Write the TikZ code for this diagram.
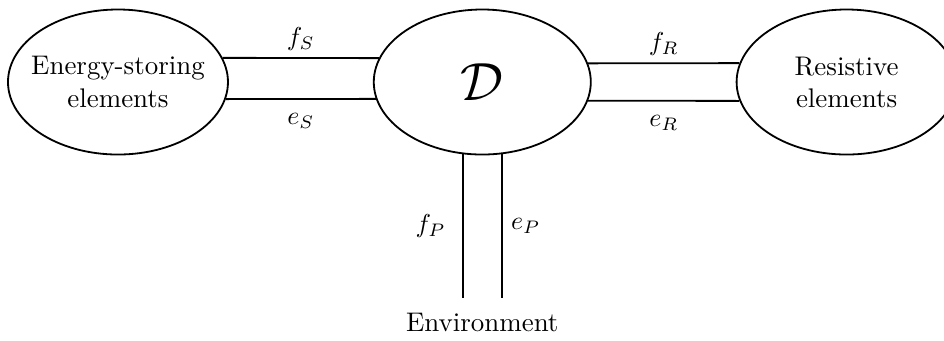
\documentclass[tikz,border=0pt]{standalone}
\usepackage{amsmath,amssymb}
\usepackage{tikz}
\usetikzlibrary{positioning,shapes.geometric,calc}
\begin{document}
\begin{tikzpicture}[node distance=1.954cm, every node/.style={font=\fontsize{10.4pt}{12.4pt}\selectfont}, blob/.style={ellipse, draw=black, line width=0.7pt, align=center, inner xsep=-4pt, minimum width=2.985cm, minimum height=1.968cm}, ln/.style={line width=0.7pt}]
\useasboundingbox (-1.601,-3.501) rectangle (11.209,1.113);
\node[blob] (S) {Energy-storing\\elements};
\node[blob, right=of S, minimum width=2.945cm] (D) {\huge$\mathcal{D}$};
\node[blob, right=of D] (R) {Resistive\\elements};
\node[below=2.02cm of D] (env) {Environment};
\coordinate[above=0.08cm of env] (p);
\draw[ln] (S.13) -- node[above=-0.8pt] {$f_S$} (D.167);
\draw[ln] (S.-9) -- node[below=2pt] {$e_S$} (D.189);
\draw[ln] (D.10) -- node[above=-0.8pt] {$f_R$} (R.170);
\draw[ln] (D.-10) -- node[below=2pt] {$e_R$} (R.190);
\draw[ln] (D.255) -- node[left=3pt] {$f_P$} (D.255 |- p);
\draw[ln] (D.285) -- node[right] {$e_P$} (D.285 |- p);
\end{tikzpicture}
\end{document}
